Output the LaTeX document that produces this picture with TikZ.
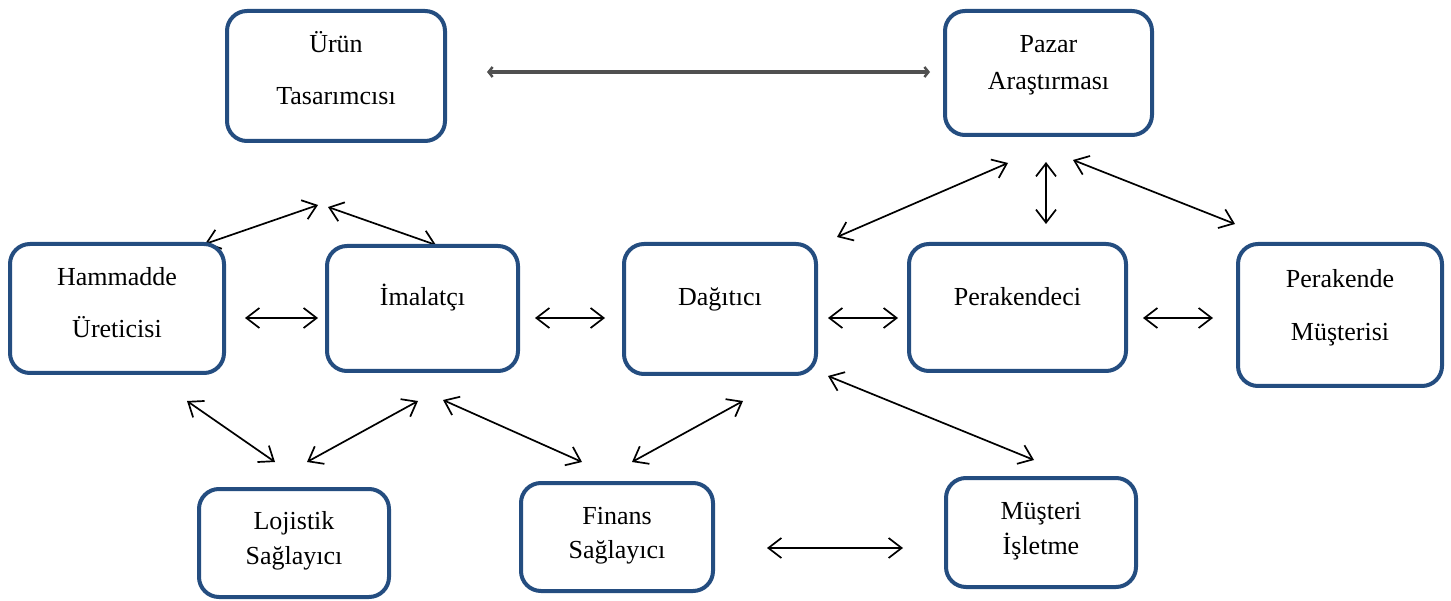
\documentclass[tikz,border=0pt]{standalone}
\usepackage{fontspec}
\setmainfont{Liberation Serif}
\newfontfamily\lblfont{Liberation Serif}
\usetikzlibrary{arrows.meta}
\definecolor{boxblue}{RGB}{36,77,128}
\definecolor{topgray}{RGB}{80,80,80}
\tikzset{
  box/.style={draw=boxblue, line width=4pt, rounded corners=20pt, rectangle, fill=white},
  lbl/.style={anchor=base, font=\lblfont\fontsize{26}{30}\selectfont, inner sep=0pt},
  conn/.style={line width=1.7pt, {Straight Barb[length=13pt,width=20pt,line width=1.7pt]}-{Straight Barb[length=13pt,width=20pt,line width=1.7pt]}},
  topconn/.style={draw=topgray, line width=3.5pt, {Straight Barb[length=4pt,width=10pt,line width=2.5pt]}-{Straight Barb[length=4pt,width=10pt,line width=2.5pt]}}
}
\begin{document}
\begin{tikzpicture}[x=1pt,y=-1pt]
\useasboundingbox (0,0) rectangle (1451,601);
% arrows first (partly hidden behind boxes)
\coordinate (a1s) at (487,72);   \coordinate (a1e) at (930,72);
\coordinate (a2s) at (205,244);  \coordinate (a2e) at (318,205);
\coordinate (a3s) at (436,245);  \coordinate (a3e) at (328,207);
\coordinate (a4s) at (245,318);  \coordinate (a4e) at (318,318);
\coordinate (a5s) at (535,318);  \coordinate (a5e) at (605,318);
\coordinate (a6s) at (828,318);  \coordinate (a6e) at (898,318);
\coordinate (a7s) at (1143,318); \coordinate (a7e) at (1213,318);
\coordinate (a8s) at (1008,163); \coordinate (a8e) at (837,237);
\coordinate (a9s) at (1046,162); \coordinate (a9e) at (1046,224);
\coordinate (a10s) at (1073,160); \coordinate (a10e) at (1235,224);
\coordinate (a11s) at (187,401); \coordinate (a11e) at (275,462);
\coordinate (a12s) at (418,401); \coordinate (a12e) at (307,462);
\coordinate (a13s) at (443,400); \coordinate (a13e) at (582,462);
\coordinate (a14s) at (743,401); \coordinate (a14e) at (632,462);
\coordinate (a15s) at (828,376); \coordinate (a15e) at (1034,460);
\coordinate (a16s) at (767,548); \coordinate (a16e) at (903,548);
\draw[topconn] (a1s) -- (a1e);
\foreach \i in {2,...,16} {\draw[conn] (a\i s) -- (a\i e);}
% boxes
\node[box, minimum width=218pt, minimum height=130pt] (urun) at (336,76) {};
\node[box, minimum width=207pt, minimum height=124pt] (pazar) at (1048.5,73) {};
\node[box, minimum width=214pt, minimum height=129pt] (hamm) at (117,308.5) {};
\node[box, minimum width=191pt, minimum height=125pt] (imal) at (422.5,308.5) {};
\node[box, minimum width=192pt, minimum height=130pt] (dagit) at (720,309) {};
\node[box, minimum width=217pt, minimum height=127pt] (perak) at (1017.5,307.5) {};
\node[box, minimum width=204pt, minimum height=142pt] (pmus) at (1340,315) {};
\node[box, minimum width=190pt, minimum height=108pt] (loj) at (294,543) {};
\node[box, minimum width=192pt, minimum height=108pt] (fin) at (617,537) {};
\node[box, minimum width=190pt, minimum height=109pt] (mis) at (1041,532.5) {};
% labels
\node[lbl] (t1) at (336,53) {Ürün};
\node[lbl] (t2) at (336,105) {Tasarımcısı};
\node[lbl] (t3) at (1048.5,53) {Pazar};
\node[lbl] (t4) at (1048.5,90) {Araştırması};
\node[lbl] (t5) at (117,286) {Hammadde};
\node[lbl] (t6) at (117,338) {Üreticisi};
\node[lbl] (t7) at (422.5,306) {İmalatçı};
\node[lbl] (t8) at (720,306) {Dağıtıcı};
\node[lbl] (t9) at (1017.5,306) {Perakendeci};
\node[lbl] (t10) at (1340,288) {Perakende};
\node[lbl] (t11) at (1340,341) {Müşterisi};
\node[lbl] (t12) at (294,529) {Lojistik};
\node[lbl] (t13) at (294,564) {Sağlayıcı};
\node[lbl] (t14) at (617,524) {Finans};
\node[lbl] (t15) at (617,558) {Sağlayıcı};
\node[lbl] (t16) at (1041,519) {Müşteri};
\node[lbl] (t17) at (1041,554) {İşletme};
\end{tikzpicture}
\end{document}
